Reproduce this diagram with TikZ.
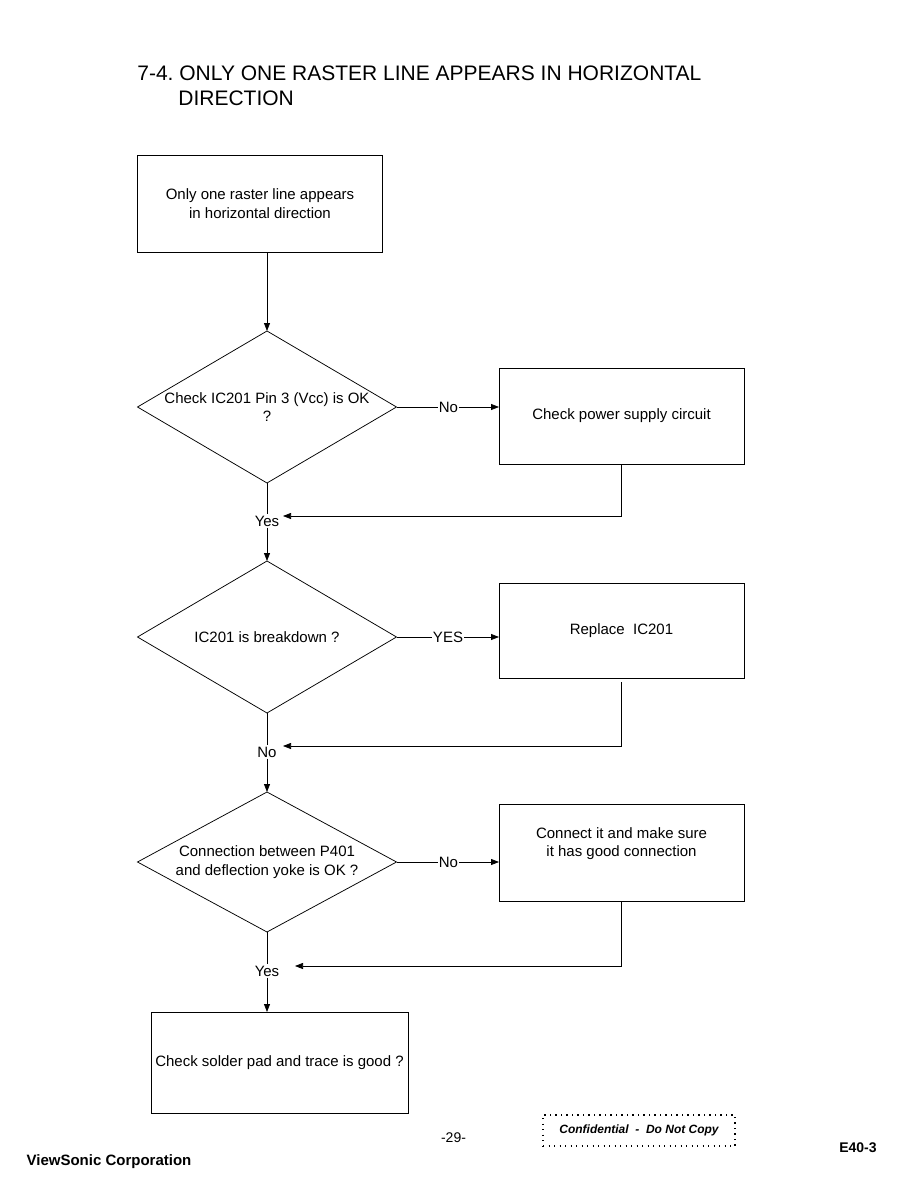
\documentclass[tikz,border=0pt]{standalone}
\usepackage{fontspec}
\setmainfont{Liberation Sans}
\usetikzlibrary{arrows.meta, shapes.geometric, calc}
\frenchspacing

\begin{document}
\begin{tikzpicture}[x=1pt, y=-1pt, >={Triangle[length=8pt, width=6pt]},
  line width=0.75pt, font=\fontsize{15}{18.5}\selectfont,
  procbox/.style={draw, rectangle, minimum width=245pt, minimum height=96pt,
    inner sep=0pt, outer sep=0pt, align=center},
  decision/.style={draw, diamond, minimum width=259pt, minimum height=152pt,
    inner sep=0pt, outer sep=0pt},
  btext/.style={align=center, inner sep=1pt},
  answer/.style={inner sep=1pt}]
  \useasboundingbox (0,0) rectangle (918,1188);
  %% heading
  \node[anchor=base west, inner sep=0pt, font=\fontsize{21}{25}\selectfont]
    (title) at (137,81) {7-4. ONLY ONE RASTER LINE APPEARS IN HORIZONTAL};
  \node[anchor=base west, inner sep=0pt, font=\fontsize{21}{25}\selectfont]
    (titlecont) at (178,106) {DIRECTION};
  %% boxes and decisions
  \node[procbox, minimum width=245pt, minimum height=97pt] (start) at (260,203.5)
    {Only one raster line appears\\in horizontal direction};
  \node[decision] (chkvcc) at (267,407) {};
  \node[btext] (chkvcctxt) at (chkvcc.center) {Check IC201 Pin 3 (Vcc) is OK\\?};
  \node[procbox] (power) at (621.5,416) {Check power supply circuit};
  \node[decision] (chkic) at (267,637) {};
  \node[btext] (chkictxt) at (chkic.center) {IC201 is breakdown ?};
  \node[procbox, minimum height=95pt] (replace) at (621.5,630.5) {Replace\ \ IC201};
  \node[decision, minimum height=140pt] (chkyoke) at (267,862) {};
  \node[btext] (chkyoketxt) at (chkyoke.center)
    {Connection between P401\\and deflection yoke is OK ?};
  \node[procbox, minimum height=97pt] (connect) at (621.5,852.5) {};
  \node[btext] (connecttxt) at ([yshift=9pt]connect.center)
    {Connect it and make sure\\it has good connection};
  \node[procbox, minimum width=257pt, minimum height=101pt] (solder) at (279.5,1062.5)
    {Check solder pad and trace is good ?};
  %% answer labels
  \node[answer] (novcc) at (448.5,407) {No};
  \node[answer] (yesic) at (448,637) {YES};
  \node[answer] (noyoke) at (448.5,862) {No};
  \node[answer] (yesvcc) at (267,521) {Yes};
  \node[answer] (noic) at (267,752) {No};
  \node[answer] (yesyoke) at (267,971) {Yes};
  \coordinate (retvcc) at (283,516);
  \coordinate (retic) at (283,746);
  \coordinate (retyoke) at (295,966);
  %% connectors
  \draw[->] (start.south -| chkvcc.north) -- (chkvcc.north);
  \draw (chkvcc.east) -- (novcc.west);
  \draw[->] (novcc.east) -- (novcc.east -| power.west);
  \draw[->] (power.south) |- (retvcc);
  \draw (chkvcc.south) -- (yesvcc.north);
  \draw[->] (yesvcc.south) -- (chkic.north);
  \draw (chkic.east) -- (yesic.west);
  \draw[->] (yesic.east) -- (yesic.east -| replace.west);
  \draw[->] ([yshift=-4pt]replace.south) |- (retic);
  \draw (chkic.south) -- (noic.north);
  \draw[->] (noic.south) -- (chkyoke.north);
  \draw (chkyoke.east) -- (noyoke.west);
  \draw[->] (noyoke.east) -- (noyoke.east -| connect.west);
  \draw[->] (connect.south) |- (retyoke);
  \draw (chkyoke.south) -- (yesyoke.north);
  \draw[->] (yesyoke.south) -- (yesyoke.south |- solder.north);
  %% footer
  \node[font=\fontsize{14}{16}\selectfont] (pagenum) at (453.5,1138) {-29-};
  \node[draw, dash pattern=on 1.3pt off 4.2pt, line width=1.1pt,
    minimum width=192pt, minimum height=31pt, inner sep=0pt,
    font=\bfseries\itshape\fontsize{12}{14}\selectfont] (confid) at (639,1130.5)
    {Confidential\ \ -\ \ Do Not Copy};
  \node[font=\bfseries\fontsize{14}{16}\selectfont] (model) at (858,1148) {E40-3};
  \node[font=\bfseries\fontsize{15}{17}\selectfont] (corp) at (109,1162) {ViewSonic Corporation};
\end{tikzpicture}
\end{document}
